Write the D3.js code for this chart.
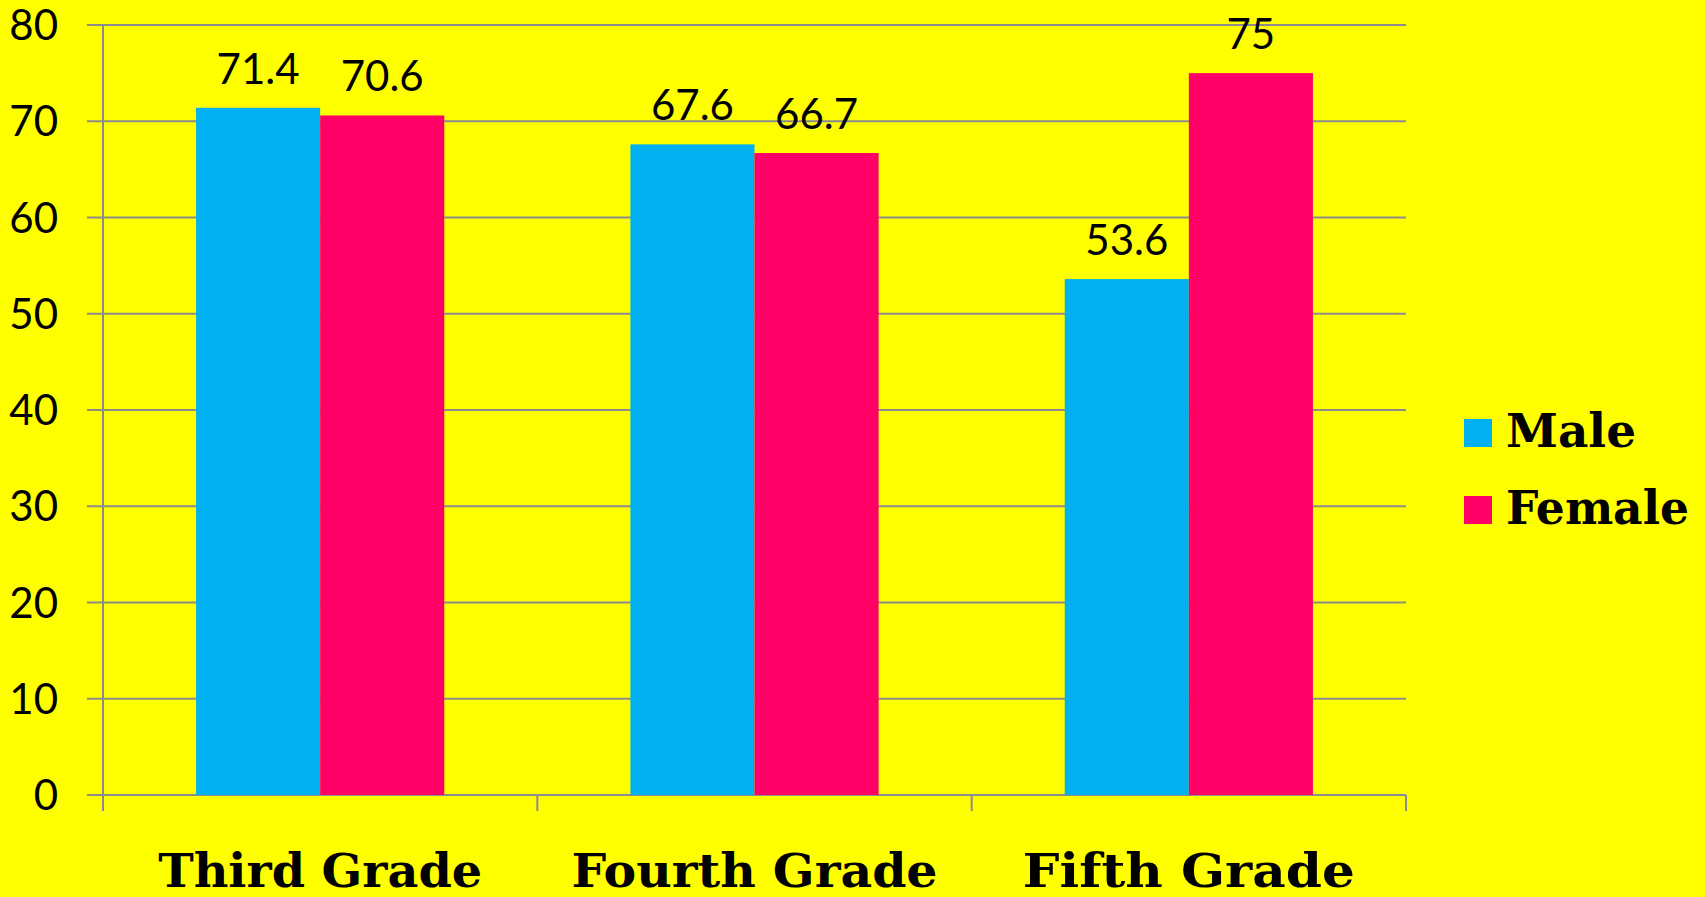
<!DOCTYPE html>
<html>
<head>
<meta charset="utf-8">
<script src="https://cdn.jsdelivr.net/npm/d3@7"></script>
<style>
  html, body { margin: 0; padding: 0; background: #ffff00; }
  svg { display: block; }
</style>
</head>
<body>
<svg id="chart"></svg>
<script>
var categories = ["Third Grade", "Fourth Grade", "Fifth Grade"];
var series = ["Male", "Female"];
var male = [71.4, 67.6, 53.6];
var female = [70.6, 66.7, 75];
var yTicks = [0, 10, 20, 30, 40, 50, 60, 70, 80];

var colors = { Male: "#00b0f0", Female: "#ff0066" };
var width = 1705, height = 897;
var plot = { left: 103, right: 1406, top: 25, bottom: 795 };

var svg = d3.select("#chart").attr("width", width).attr("height", height);
svg.append("rect").attr("width", width).attr("height", height).attr("fill", "#ffff00");

var x0 = d3.scaleBand().domain(categories).range([plot.left, plot.right]);
var x1 = d3.scaleBand().domain(series).range([0, x0.bandwidth()]).paddingOuter(0.75);
var y = d3.scaleLinear().domain([0, 80]).range([plot.bottom, plot.top]);

// grid lines
svg.append("g").selectAll("line").data(yTicks).join("line")
    .attr("x1", plot.left - 16).attr("x2", plot.right)
    .attr("y1", d => y(d)).attr("y2", d => y(d))
    .attr("stroke", "#8c8c8c").attr("stroke-width", 2);

// y axis line
svg.append("line")
    .attr("x1", plot.left).attr("x2", plot.left)
    .attr("y1", plot.top).attr("y2", plot.bottom + 16)
    .attr("stroke", "#8c8c8c").attr("stroke-width", 2);

// x ticks at category boundaries
var bounds = categories.map(c => x0(c)).concat([plot.right]);
svg.append("g").selectAll("line").data(bounds).join("line")
    .attr("x1", d => d).attr("x2", d => d)
    .attr("y1", plot.bottom).attr("y2", plot.bottom + 16)
    .attr("stroke", "#8c8c8c").attr("stroke-width", 2);

// y labels
svg.append("g").selectAll("text").data(yTicks).join("text")
    .attr("x", 58).attr("y", d => y(d) + 15)
    .attr("text-anchor", "end")
    .attr("font-family", "Lato, 'Open Sans', sans-serif")
    .attr("font-size", 42)
    .text(d => d);

var rows = categories.map((c, i) => ({ cat: c, values: [
    { key: "Male", value: male[i] },
    { key: "Female", value: female[i] }
]}));

var groups = svg.append("g").selectAll("g").data(rows).join("g")
    .attr("transform", d => "translate(" + x0(d.cat) + ",0)");

groups.selectAll("rect").data(d => d.values).join("rect")
    .attr("x", d => x1(d.key))
    .attr("width", x1.bandwidth())
    .attr("y", d => y(d.value))
    .attr("height", d => y(0) - y(d.value))
    .attr("fill", d => colors[d.key]);

groups.selectAll("text").data(d => d.values).join("text")
    .attr("x", d => x1(d.key) + x1.bandwidth() / 2)
    .attr("y", d => y(d.value) - 24)
    .attr("text-anchor", "middle")
    .attr("font-family", "Lato, 'Open Sans', sans-serif")
    .attr("font-size", 42)
    .text(d => d.value);

// category labels
var catWidths = [324, 366, 332];
svg.append("g").selectAll("text").data(categories).join("text")
    .attr("x", d => x0(d) + x0.bandwidth() / 2)
    .attr("y", 887)
    .attr("text-anchor", "middle")
    .attr("font-family", "'DejaVu Serif', serif")
    .attr("font-weight", "bold")
    .attr("font-size", 46)
    .attr("textLength", (d, i) => catWidths[i])
    .attr("lengthAdjust", "spacingAndGlyphs")
    .text(d => d);

// legend
var legendWidths = [130, 183];
var legend = svg.append("g").selectAll("g").data(series).join("g")
    .attr("transform", (d, i) => "translate(1464," + (419 + i * 77) + ")");
legend.append("rect").attr("width", 28).attr("height", 28).attr("fill", d => colors[d]);
legend.append("text")
    .attr("x", 42).attr("y", 28)
    .attr("font-family", "'DejaVu Serif', serif")
    .attr("font-weight", "bold")
    .attr("font-size", 46)
    .attr("textLength", (d, i) => legendWidths[i])
    .attr("lengthAdjust", "spacingAndGlyphs")
    .text(d => d);
</script>
</body>
</html>
